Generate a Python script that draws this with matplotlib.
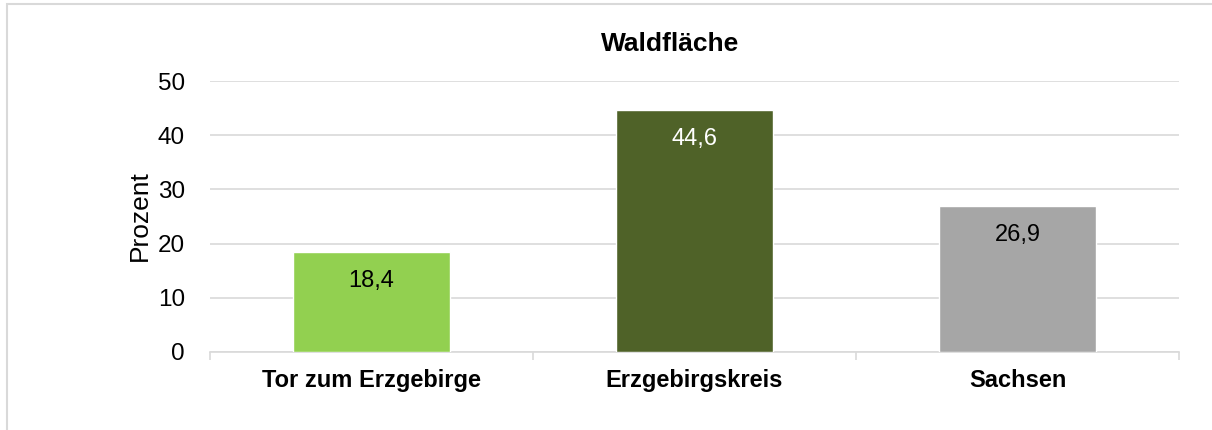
import numpy as np
import matplotlib.pyplot as plt
from matplotlib.patches import Rectangle

# data
categories = ["Tor zum Erzgebirge", "Erzgebirgskreis", "Sachsen"]
values = [18.4, 44.6, 26.9]
bar_colors = ["#92D050", "#4F6228", "#A6A6A6"]
label_colors = ["black", "white", "black"]
y_ticks = [0, 10, 20, 30, 40, 50]

plt.rcParams['font.family'] = ['Liberation Sans', 'DejaVu Sans']

W, H = 1212, 430
fig = plt.figure(figsize=(W / 100, H / 100), dpi=100)
ax = fig.add_axes([210 / W, 1 - 352 / H, (1179 - 210) / W, (352 - 81) / H])

x = np.arange(len(categories))
bars = ax.bar(x, values, width=0.486, color=bar_colors, edgecolor="white", linewidth=1.0, zorder=3)

for b, v, c in zip(bars, values, label_colors):
    ax.annotate(f"{v:.1f}".replace(".", ","), (b.get_x() + b.get_width() / 2, v),
                xytext=(0, -13), textcoords="offset points", ha="center", va="top",
                fontsize=17, color=c, zorder=4)

ax.set_xlim(-0.5, len(categories) - 0.5)
ax.set_ylim(0, 50)
ax.set_yticks(y_ticks)
ax.set_yticklabels([str(t) for t in y_ticks], fontsize=17.5)
ax.grid(axis="y", color="#D9D9D9", linewidth=1.2, zorder=0)
ax.set_axisbelow(True)

ax.set_xticks(x)
ax.set_xticklabels(categories, fontsize=17, fontweight="bold")
ax.tick_params(axis="x", length=0, pad=12)
ax.tick_params(axis="y", length=0, pad=18)
ax.set_xticks(np.arange(-0.5, len(categories)), minor=True)
ax.tick_params(axis="x", which="minor", length=6, color="#D9D9D9", width=1.2)

for s in ["top", "right", "left"]:
    ax.spines[s].set_visible(False)
ax.spines["bottom"].set_color("#D9D9D9")
ax.spines["bottom"].set_linewidth(1.2)

fig.text(670 / W, 1 - 44 / H, "Waldfläche", fontsize=19, fontweight="bold", ha="center", va="center")
fig.text(140 / W, 1 - 216 / H, "Prozent", fontsize=19, rotation=90, ha="center", va="center")

# outer chart frame (only top and left edges visible)
fig.patches.append(Rectangle((7 / W, -0.1), 1.2, 1 - 4 / H + 0.1, transform=fig.transFigure,
                             fill=False, edgecolor="#D9D9D9", linewidth=1.5))

fig.savefig("out.png", dpi=100)
